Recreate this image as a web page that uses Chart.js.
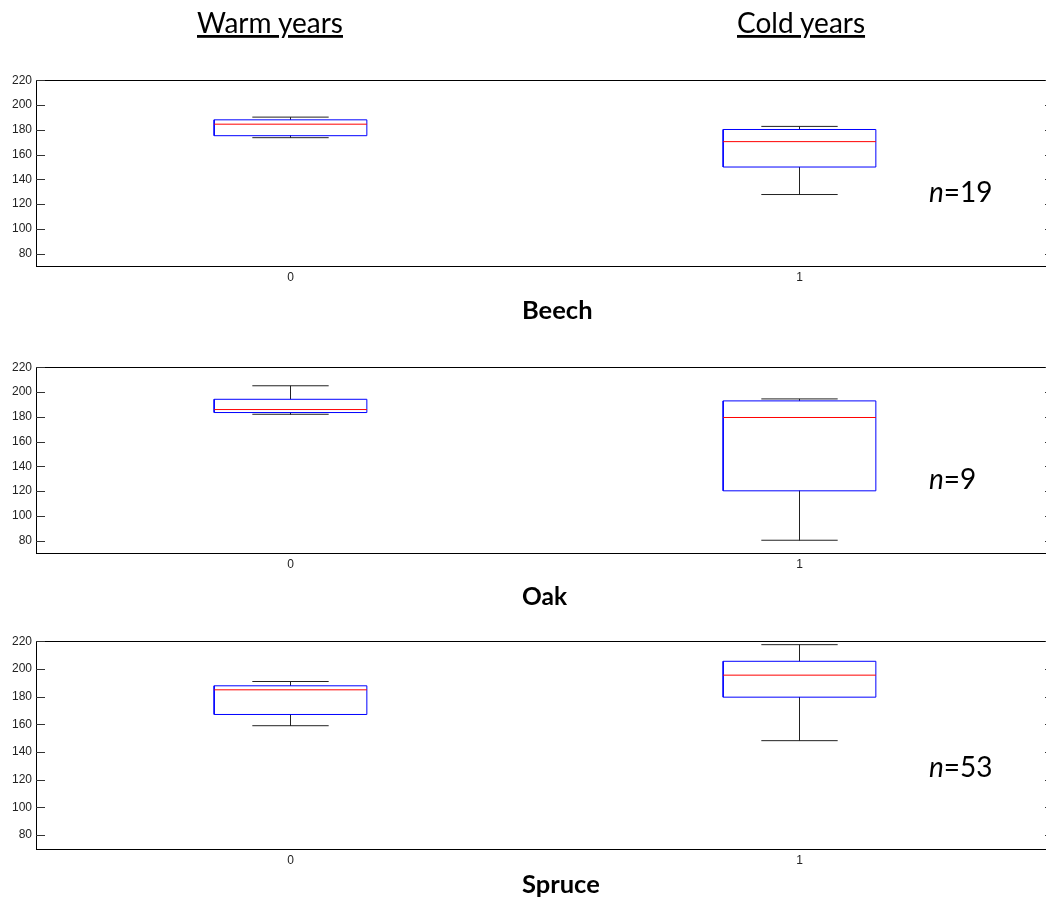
<!DOCTYPE html>
<html>
<head>
<meta charset="utf-8">
<script src="https://cdn.jsdelivr.net/npm/chart.js@4.4.1/dist/chart.umd.min.js"></script>
<style>
  body { margin: 0; background: #fff; overflow: hidden; }
  #page { position: relative; width: 1046px; height: 898px; overflow: hidden; }
  canvas { position: absolute; left: 0; }
  svg { position: absolute; left: 0; top: 0; }
  text { font-family: Lato, "Open Sans", sans-serif; fill: #000; }
</style>
</head>
<body>
<div id="page">
  <canvas id="beech" width="1060" height="221" style="top:69px"></canvas>
  <canvas id="oak" width="1060" height="221" style="top:356px"></canvas>
  <canvas id="spruce" width="1060" height="243" style="top:630px"></canvas>
  <svg width="1046" height="898">
    <text x="197" y="33" font-size="28" text-decoration="underline">Warm years</text>
    <text x="737" y="33" font-size="28" text-decoration="underline">Cold years</text>
    <text x="522" y="319" font-size="25.5" font-weight="bold">Beech</text>
    <text x="522" y="605" font-size="24.5" font-weight="bold">Oak</text>
    <text x="522" y="893" font-size="25.5" font-weight="bold">Spruce</text>
    <text x="929" y="202" font-size="28"><tspan font-style="italic">n</tspan>=19</text>
    <text x="929" y="489" font-size="28"><tspan font-style="italic">n</tspan>=9</text>
    <text x="929" y="777" font-size="28"><tspan font-style="italic">n</tspan>=53</text>
  </svg>
</div>
<script>
// x categories: 0 = warm years, 1 = cold years
const categories = ['0', '1'];
const yTicks = [80, 100, 120, 140, 160, 180, 200, 220];

// five-number summaries: [low whisker, q1, median, q3, high whisker]
const beechWarm = [173.6, 175.2, 184.5, 188.0, 190.2];
const beechCold = [127.7, 149.9, 170.4, 180.2, 182.7];
const oakWarm = [182.0, 183.4, 185.8, 194.1, 205.0];
const oakCold = [80.3, 120.2, 179.4, 192.8, 194.4];
const spruceWarm = [159.0, 167.1, 184.9, 187.8, 190.9];
const spruceCold = [148.2, 179.6, 195.5, 205.5, 217.5];

const boxHalf = 0.15;
const capHalf = 0.075;

// frame around the plot area with inward ticks on both sides
const framePlugin = {
    id: 'frame',
    afterDraw(chart) {
        const ctx = chart.ctx;
        const a = chart.chartArea;
        const y = chart.scales.y;
        ctx.save();
        ctx.strokeStyle = '#000';
        ctx.lineWidth = 1;
        ctx.strokeRect(Math.round(a.left) + 0.5, Math.round(a.top) + 0.5,
                       Math.round(a.right - a.left), Math.round(a.bottom - a.top));
        ctx.strokeStyle = '#333';
        yTicks.forEach(v => {
            const py = Math.round(y.getPixelForValue(v)) + 0.5;
            ctx.beginPath();
            ctx.moveTo(a.left, py);
            ctx.lineTo(a.left + 9, py);
            ctx.moveTo(a.right, py);
            ctx.lineTo(a.right - 9, py);
            ctx.stroke();
        });
        ctx.restore();
    }
};

function buildDatasets(groups) {
    let box = [], median = [], whisk = [];
    groups.forEach((s, i) => {
        const [lo, q1, med, q3, hi] = s;
        box.push({x: i - boxHalf, y: q1}, {x: i + boxHalf, y: q1}, {x: i + boxHalf, y: q3},
                 {x: i - boxHalf, y: q3}, {x: i - boxHalf, y: q1}, {x: i, y: null});
        median.push({x: i - boxHalf, y: med}, {x: i + boxHalf, y: med}, {x: i, y: null});
        whisk.push({x: i, y: q3}, {x: i, y: hi}, {x: i, y: null},
                   {x: i - capHalf, y: hi}, {x: i + capHalf, y: hi}, {x: i, y: null},
                   {x: i, y: q1}, {x: i, y: lo}, {x: i, y: null},
                   {x: i - capHalf, y: lo}, {x: i + capHalf, y: lo}, {x: i, y: null});
    });
    const line = (data, color, order) => ({
        data: data, borderColor: color, borderWidth: 1, showLine: true,
        pointRadius: 0, spanGaps: false, fill: false, order: order
    });
    return [line(median, '#ff0000', 0), line(box, '#0000ff', 1), line(whisk, '#222', 2)];
}

function createChart(canvasId, groups) {
    const ctx = document.getElementById(canvasId).getContext('2d');
    return new Chart(ctx, {
        type: 'scatter',
        data: { datasets: buildDatasets(groups) },
        options: {
            responsive: false,
            animation: false,
            layout: { padding: { top: 10, right: 6, left: 0, bottom: 0 } },
            plugins: { legend: { display: false }, tooltip: { enabled: false } },
            scales: {
                x: {
                    type: 'linear', min: -0.5, max: 1.5,
                    grid: { display: false, drawTicks: false },
                    border: { display: false },
                    afterBuildTicks: s => { s.ticks = categories.map((c, i) => ({ value: i })); },
                    afterFit: s => { s.height = 24; },
                    ticks: {
                        padding: 4, maxRotation: 0, color: '#222',
                        font: { family: '"Liberation Sans", Arial, sans-serif', size: 12 },
                        callback: v => categories[v]
                    }
                },
                y: {
                    min: 70, max: 220,
                    grid: { display: false, drawTicks: false },
                    border: { display: false },
                    afterBuildTicks: s => { s.ticks = yTicks.map(v => ({ value: v })); },
                    afterFit: s => { s.width = 36; },
                    ticks: {
                        padding: 4, color: '#222',
                        font: { family: '"Liberation Sans", Arial, sans-serif', size: 12 }
                    }
                }
            }
        },
        plugins: [framePlugin]
    });
}

createChart('beech', [beechWarm, beechCold]);
createChart('oak', [oakWarm, oakCold]);
createChart('spruce', [spruceWarm, spruceCold]);
</script>
</body>
</html>
